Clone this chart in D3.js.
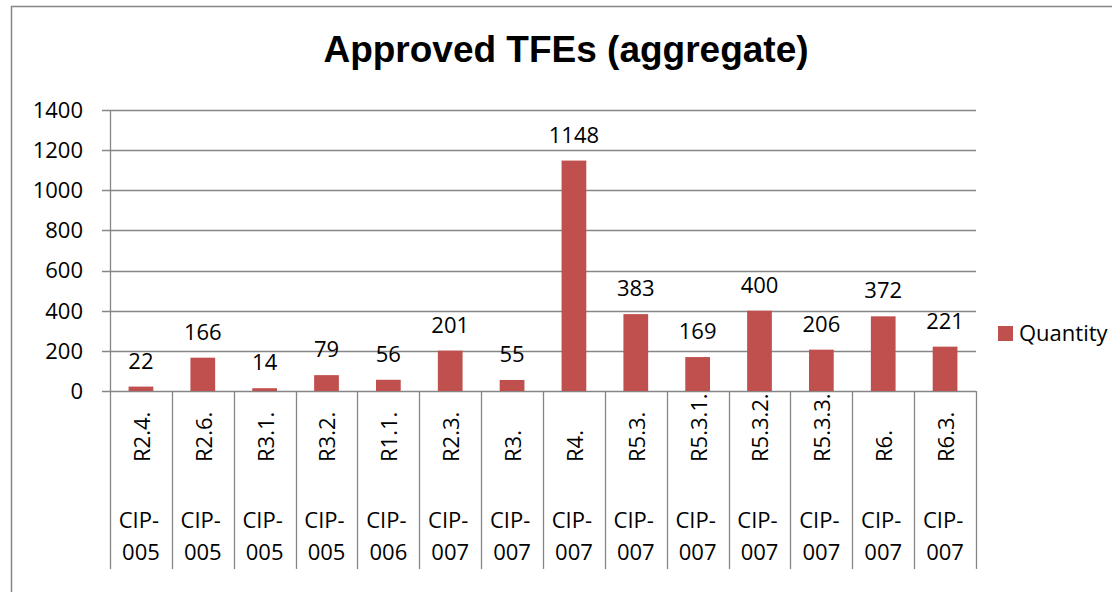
<!DOCTYPE html>
<html>
<head>
<meta charset="utf-8">
<script src="https://cdn.jsdelivr.net/npm/d3@7"></script>
<style>
  body { margin: 0; background: #fff; }
  svg { display: block; }
  text { font-family: "Open Sans", sans-serif; fill: #000; }
</style>
</head>
<body>
<svg id="chart"></svg>
<script>
//// DATA
const sections = ["R2.4.", "R2.6.", "R3.1.", "R3.2.", "R1.1.", "R2.3.", "R3.", "R4.", "R5.3.", "R5.3.1.", "R5.3.2.", "R5.3.3.", "R6.", "R6.3."];
const standards = ["005", "005", "005", "005", "006", "007", "007", "007", "007", "007", "007", "007", "007", "007"];
const quantity = [22, 166, 14, 79, 56, 201, 55, 1148, 383, 169, 400, 206, 372, 221];
const yTicks = [0, 200, 400, 600, 800, 1000, 1200, 1400];

//// SETTINGS
const width = 1112;
const height = 592;
const plot = { left: 110, right: 976, top: 110, bottom: 391 };
const barColor = "#C0504D";
const lineColor = "#868686";

const svg = d3.select("#chart").attr("width", width).attr("height", height);

// outer chart border (runs off right and bottom edges)
svg.append("path")
    .attr("d", `M11.5,${height + 2}V6.5H${width + 2}`)
    .attr("fill", "none")
    .attr("stroke", lineColor)
    .attr("stroke-width", 1.5);

const x = d3.scaleBand()
    .domain(d3.range(sections.length))
    .range([plot.left, plot.right])
    .paddingInner(0)
    .paddingOuter(0);

const y = d3.scaleLinear()
    .domain([0, 1400])
    .range([plot.bottom, plot.top]);

// gridlines
svg.append("g")
    .selectAll("line")
    .data(yTicks)
    .enter()
    .append("line")
    .attr("x1", plot.left - 8)
    .attr("x2", plot.right)
    .attr("y1", d => Math.round(y(d)) + 0.5)
    .attr("y2", d => Math.round(y(d)) + 0.5)
    .attr("stroke", lineColor)
    .attr("stroke-width", 1.3);

// y axis line
svg.append("line")
    .attr("x1", plot.left + 0.5).attr("x2", plot.left + 0.5)
    .attr("y1", plot.top).attr("y2", plot.bottom)
    .attr("stroke", lineColor)
    .attr("stroke-width", 1.3);

// y tick labels
svg.append("g")
    .selectAll("text")
    .data(yTicks)
    .enter()
    .append("text")
    .attr("x", 83)
    .attr("y", d => y(d))
    .attr("dy", "0.36em")
    .attr("text-anchor", "end")
    .style("font-size", "22px")
    .text(d => d);

// category dividers
const edges = d3.range(sections.length + 1).map(i => plot.left + i * x.bandwidth());
svg.append("g")
    .selectAll("line")
    .data(edges)
    .enter()
    .append("line")
    .attr("x1", d => Math.round(d) + 0.5)
    .attr("x2", d => Math.round(d) + 0.5)
    .attr("y1", plot.bottom)
    .attr("y2", 569)
    .attr("stroke", lineColor)
    .attr("stroke-width", 1.3);

// bars
const barWidth = x.bandwidth() * 0.4;
svg.append("g")
    .selectAll("rect")
    .data(quantity)
    .enter()
    .append("rect")
    .attr("x", (d, i) => x(i) + (x.bandwidth() - barWidth) / 2)
    .attr("y", d => y(d))
    .attr("width", barWidth)
    .attr("height", d => plot.bottom - y(d))
    .attr("fill", barColor);

// value labels
svg.append("g")
    .selectAll("text")
    .data(quantity)
    .enter()
    .append("text")
    .attr("x", (d, i) => x(i) + x.bandwidth() / 2)
    .attr("y", d => y(d) - 18)
    .attr("text-anchor", "middle")
    .style("font-size", "22px")
    .text(d => d);

// rotated section labels
svg.append("g")
    .selectAll("text")
    .data(sections)
    .enter()
    .append("text")
    .attr("transform", (d, i) => `translate(${x(i) + x.bandwidth() / 2 + 1},462) rotate(-90)`)
    .attr("dy", "0.36em")
    .attr("text-anchor", "start")
    .style("font-size", "22px")
    .text(d => d);

// standard labels, wrapped on two lines
const std = svg.append("g")
    .selectAll("text")
    .data(standards)
    .enter()
    .append("text")
    .attr("text-anchor", "middle")
    .style("font-size", "22px");
std.append("tspan")
    .attr("x", (d, i) => x(i) + x.bandwidth() / 2 - 2)
    .attr("y", 528)
    .text("CIP-");
std.append("tspan")
    .attr("x", (d, i) => x(i) + x.bandwidth() / 2)
    .attr("y", 560)
    .text(d => d);

// title
svg.append("text")
    .attr("x", 566)
    .attr("y", 62)
    .attr("text-anchor", "middle")
    .style("font-family", "'Liberation Sans', Arial, sans-serif")
    .style("font-weight", "bold")
    .style("font-size", "37px")
    .text("Approved TFEs (aggregate)");

// legend
const legend = svg.append("g");
legend.append("rect")
    .attr("x", 998)
    .attr("y", 326)
    .attr("width", 15)
    .attr("height", 15)
    .attr("fill", barColor);
legend.append("text")
    .attr("x", 1019)
    .attr("y", 341)
    .style("font-size", "22px")
    .text("Quantity");
</script>
</body>
</html>
